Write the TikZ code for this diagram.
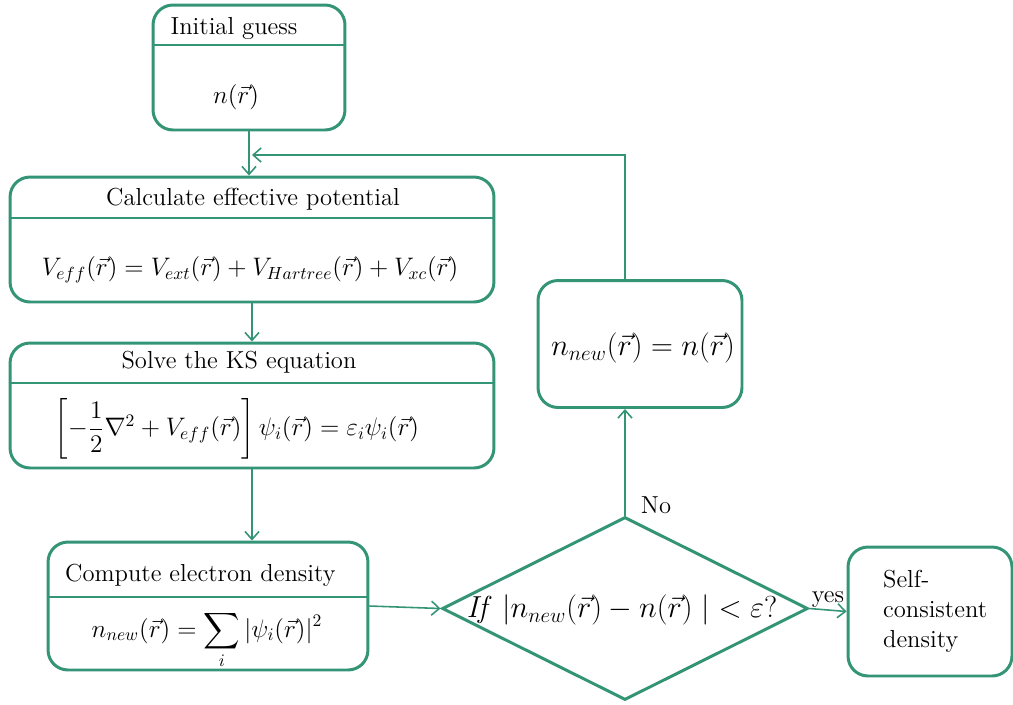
\documentclass[tikz,border=0pt]{standalone}
\usepackage{amsmath}
\usetikzlibrary{arrows.meta, shapes.geometric, positioning}
\definecolor{ksgreen}{RGB}{52,148,118}
\tikzset{
  box/.style={draw=ksgreen, line width=1.7pt, rounded corners=0.4cm, inner sep=0pt},
  conn/.style={draw=ksgreen, line width=0.9pt, -{Straight Barb[length=4.5pt,width=8pt]}},
  divider/.style={draw=ksgreen, line width=1pt},
  lbl/.style={font=\fontsize{14}{17}\selectfont, inner sep=1pt},
  eq/.style={font=\fontsize{14.4}{18}\selectfont, inner sep=0pt},
  bigeq/.style={font=\fontsize{17.28}{20}\selectfont, inner sep=0pt},
}

\begin{document}
\begin{tikzpicture}[x=0.02cm, y=-0.02cm]
\useasboundingbox (0,0) rectangle (1013,704);
% Initial guess
\node[box, minimum width=3.84cm, minimum height=2.5cm] (guess) at (249,67.5) {};
\draw[divider] (guess.west |- 0,45) -- (guess.east |- 0,45);
\node[lbl] (guesstitle) at (234,28) {Initial guess};
\node[eq] (guessform) at (236,97) {$n(\vec{r})$};
% Effective potential
\node[box, minimum width=9.68cm, minimum height=2.5cm] (potential) at (252,239.5) {};
\draw[divider] (potential.west |- 0,218) -- (potential.east |- 0,218);
\node[lbl] (pottitle) at (253,199) {Calculate effective potential};
\node[eq] (potform) at (250,270) {$V_{eff}(\vec{r}) = V_{ext}(\vec{r}) + V_{Hartree}(\vec{r}) + V_{xc}(\vec{r})$};
% KS equation
\node[box, minimum width=9.68cm, minimum height=2.5cm] (kseq) at (252,405.5) {};
\draw[divider] (kseq.west |- 0,383) -- (kseq.east |- 0,383);
\node[lbl] (kstitle) at (239,362) {Solve the KS equation};
\node[eq] (ksform) at (237,429) {$\left[-\dfrac{1}{2}\nabla^2 + V_{eff}(\vec{r})\right]\psi_i(\vec{r}) = \varepsilon_i\psi_i(\vec{r})$};
% Electron density
\node[box, minimum width=6.4cm, minimum height=2.56cm] (density) at (208,606) {};
\draw[divider] (density.west |- 0,597) -- (density.east |- 0,597);
\node[lbl, anchor=west] (denstitle) at (63,575) {Compute electron density};
\node[eq] (densform) at (207,640) {$n_{new}(\vec{r}) = \displaystyle\sum_i |\psi_i(\vec{r})|^2$};
% Convergence check
\node[draw=ksgreen, line width=1.7pt, diamond, minimum width=7.32cm, minimum height=3.66cm, inner sep=0pt] (check) at (625,608.5) {};
\node[bigeq] (checktext) at (622,610) {$\mathit{If}\;|n_{new}(\vec{r}) - n(\vec{r})\ | < \varepsilon?$};
% Update and result
\node[box, minimum width=4.08cm, minimum height=2.54cm] (update) at (640,344) {};
\node[bigeq] (updateform) at (643,348) {$n_{new}(\vec{r}) = n(\vec{r})$};
\node[box, minimum width=3.28cm, minimum height=2.58cm] (result) at (930,611.5) {};
\node[lbl, align=left, anchor=west] (resulttext) at (881,611) {Self-\\consistent\\density};
% Connectors
\coordinate (loop) at (252,155);
\draw[conn] (guess.south) -- (guess.south |- potential.north);
\draw[conn] (check.north |- update.north) -- (check.north |- loop) -- (loop);
\draw[conn] (potential.south) -- (kseq.north);
\draw[conn] (kseq.south) -- (kseq.south |- density.north);
\draw[conn] (density.east) -- (check.west);
\draw[conn] (check.north) -- (check.north |- update.south);
\node[lbl] (no) at (656,505) {No};
\draw[conn] (check.east) -- (result.west) node[lbl, midway, above] (yes) {yes};
\end{tikzpicture}
\end{document}
